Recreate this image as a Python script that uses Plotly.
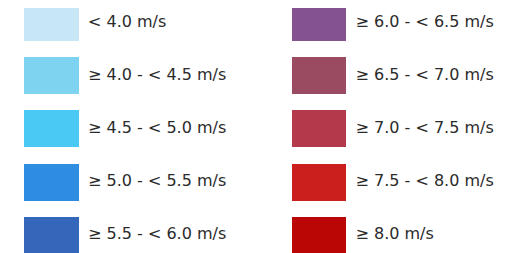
import plotly.graph_objects as go

labels = [
    "< 4.0 m/s", "≥ 4.0 - < 4.5 m/s", "≥ 4.5 - < 5.0 m/s", "≥ 5.0 - < 5.5 m/s", "≥ 5.5 - < 6.0 m/s",
    "≥ 6.0 - < 6.5 m/s", "≥ 6.5 - < 7.0 m/s", "≥ 7.0 - < 7.5 m/s", "≥ 7.5 - < 8.0 m/s", "≥ 8.0 m/s",
]
colors = [
    "#C8E7F6", "#7DD3F0", "#4BC9F5", "#2E8DE1", "#3466BA",
    "#84538F", "#9A4B61", "#B3394B", "#CB1F1D", "#BB0606",
]

W, H = 526, 253
OFF = 8  # page body margin
ROWS = 5
col_idx = [i // ROWS for i in range(len(labels))]
row_idx = [i % ROWS for i in range(len(labels))]

SW_X0, COL_STEP, SW_W = 24, 267.5, 54.5
ROW0, ROW_STEP, SW_H = 4, 53.2, 37
TXT_X0 = 88

bar_x = [SW_X0 + c * COL_STEP + SW_W / 2 for c in col_idx]
bar_base = [ROW0 + r * ROW_STEP for r in row_idx]
bar_h = [SW_H] * len(labels)
txt_x = [TXT_X0 + c * COL_STEP for c in col_idx]
txt_y = [b + SW_H / 2 for b in bar_base]

fig = go.Figure()
fig.add_trace(go.Bar(
    x=bar_x, y=bar_h, base=bar_base, width=SW_W,
    marker=dict(color=colors, line=dict(width=0)),
    hoverinfo="skip", showlegend=False,
))
fig.add_trace(go.Scatter(
    x=txt_x, y=txt_y, mode="text", text=labels, textposition="middle right",
    textfont=dict(family="DejaVu Sans", size=16, color="#2b2b2b"),
    hoverinfo="skip", showlegend=False,
))
fig.update_layout(
    width=W, height=H, margin=dict(l=0, r=0, t=0, b=0),
    paper_bgcolor="white", plot_bgcolor="white",
    xaxis=dict(range=[OFF, W + OFF], visible=False, fixedrange=True),
    yaxis=dict(range=[H + OFF, OFF], visible=False, fixedrange=True),
    bargap=0,
)
fig.write_html("out.html")
